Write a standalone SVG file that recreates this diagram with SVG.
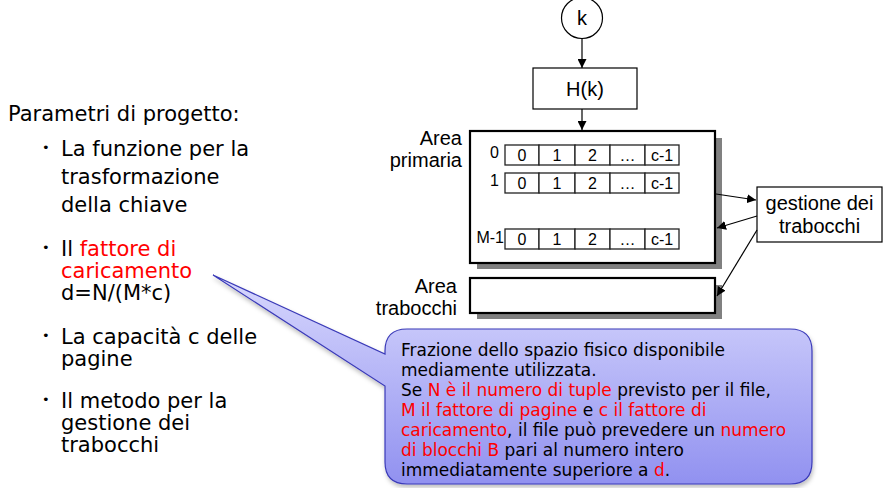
<svg xmlns="http://www.w3.org/2000/svg" width="885" height="488" viewBox="0 0 885 488">
<defs>
  <marker id="ah" viewBox="0 0 10 10" refX="10" refY="5" markerWidth="9" markerHeight="9" markerUnits="userSpaceOnUse" orient="auto">
    <path d="M0,0 L10,5 L0,10 Z" fill="#000"/>
  </marker>
  <linearGradient id="cg" x1="0" y1="0" x2="0" y2="1">
    <stop offset="0" stop-color="#d8d8fd"/>
    <stop offset="1" stop-color="#9191f0"/>
  </linearGradient>
  <filter id="sh" x="-10%" y="-10%" width="120%" height="130%">
    <feDropShadow dx="1" dy="3" stdDeviation="2" flood-color="#000" flood-opacity="0.25"/>
  </filter>
</defs>
<style>
  .lt { font-family: "DejaVu Sans", sans-serif; font-size: 21px; fill: #000; }
  .bul { font-family: "DejaVu Sans", sans-serif; font-size: 13px; fill: #000; }
  .ct { font-family: "DejaVu Sans", sans-serif; font-size: 17px; fill: #000; }
  .red { fill: #ff0000; }
  .dg { font-family: "Liberation Sans", Arial, sans-serif; fill: #000; }
  .lbl { font-size: 20px; }
  .cell { font-size: 16px; text-anchor: middle; }
  .cellbox { fill: #fff; stroke: #222; stroke-width: 1.3; }
  .shadow { fill: #808080; }
  .box { fill: #fff; stroke: #000; stroke-width: 2.2; }
  .thin { fill: #fff; stroke: #000; stroke-width: 1.2; }
  .conn { stroke: #000; stroke-width: 1.2; fill: none; marker-end: url(#ah); }
</style>

<g id="left-text">
  <text class="lt" x="8" y="121">Parametri di progetto:</text>
  <text class="bul" x="42" y="152">•</text>
  <text class="lt" x="61" y="156">La funzione per la</text>
  <text class="lt" x="61" y="184">trasformazione</text>
  <text class="lt" x="61" y="212">della chiave</text>
  <text class="bul" x="42" y="252">•</text>
  <text class="lt" x="61" y="256">Il <tspan class="red">fattore di</tspan></text>
  <text class="lt red" x="61" y="278">caricamento</text>
  <text class="lt" x="61" y="300">d=N/(M*c)</text>
  <text class="bul" x="42" y="340">•</text>
  <text class="lt" x="61" y="344">La capacità c delle</text>
  <text class="lt" x="61" y="366">pagine</text>
  <text class="bul" x="42" y="404">•</text>
  <text class="lt" x="61" y="408">Il metodo per la</text>
  <text class="lt" x="61" y="430">gestione dei</text>
  <text class="lt" x="61" y="452">trabocchi</text>
</g>

<g id="node-k">
  <circle cx="582" cy="18" r="20.5" fill="#fff" stroke="#000" stroke-width="1.2"/>
  <text class="dg lbl" x="582" y="25" text-anchor="middle">k</text>
</g>

<g id="node-hk">
  <rect class="thin" x="533" y="68" width="104" height="41"/>
  <text class="dg lbl" x="585" y="96" text-anchor="middle">H(k)</text>
</g>

<g id="node-area-primaria">
  <rect class="shadow" x="477" y="138" width="245" height="131"/>
  <rect class="box" x="470" y="131" width="245" height="132"/>
  <text class="dg lbl" x="462" y="145" text-anchor="end">Area</text>
  <text class="dg lbl" x="462" y="167" text-anchor="end">primaria</text>
  <text class="dg" font-size="16" x="499" y="158" text-anchor="end">0</text>
  <text class="dg" font-size="16" x="499" y="186" text-anchor="end">1</text>
  <text class="dg" font-size="16" x="504" y="243" text-anchor="end">M-1</text>
  <g id="row-0">
    <rect class="cellbox" x="505" y="145" width="34" height="20"/>
    <rect class="cellbox" x="539" y="145" width="36" height="20"/>
    <rect class="cellbox" x="575" y="145" width="35" height="20"/>
    <rect class="cellbox" x="610" y="145" width="35" height="20"/>
    <rect class="cellbox" x="645" y="145" width="34" height="20"/>
    <text class="dg cell" x="522" y="161">0</text>
    <text class="dg cell" x="557" y="161">1</text>
    <text class="dg cell" x="592.5" y="161">2</text>
    <text class="dg cell" x="627.5" y="161">…</text>
    <text class="dg cell" x="662" y="161">c-1</text>
  </g>
  <g id="row-1">
    <rect class="cellbox" x="505" y="173" width="34" height="20"/>
    <rect class="cellbox" x="539" y="173" width="36" height="20"/>
    <rect class="cellbox" x="575" y="173" width="35" height="20"/>
    <rect class="cellbox" x="610" y="173" width="35" height="20"/>
    <rect class="cellbox" x="645" y="173" width="34" height="20"/>
    <text class="dg cell" x="522" y="189">0</text>
    <text class="dg cell" x="557" y="189">1</text>
    <text class="dg cell" x="592.5" y="189">2</text>
    <text class="dg cell" x="627.5" y="189">…</text>
    <text class="dg cell" x="662" y="189">c-1</text>
  </g>
  <g id="row-m1">
    <rect class="cellbox" x="505" y="229" width="34" height="20"/>
    <rect class="cellbox" x="539" y="229" width="36" height="20"/>
    <rect class="cellbox" x="575" y="229" width="35" height="20"/>
    <rect class="cellbox" x="610" y="229" width="35" height="20"/>
    <rect class="cellbox" x="645" y="229" width="34" height="20"/>
    <text class="dg cell" x="522" y="245">0</text>
    <text class="dg cell" x="557" y="245">1</text>
    <text class="dg cell" x="592.5" y="245">2</text>
    <text class="dg cell" x="627.5" y="245">…</text>
    <text class="dg cell" x="662" y="245">c-1</text>
  </g>
</g>

<g id="node-area-trabocchi">
  <rect class="shadow" x="477" y="285" width="245" height="34"/>
  <rect class="box" x="470" y="278" width="245" height="35"/>
  <text class="dg lbl" x="457" y="293" text-anchor="end">Area</text>
  <text class="dg lbl" x="457" y="315" text-anchor="end">trabocchi</text>
</g>

<g id="node-gestione">
  <rect class="thin" x="757" y="187" width="125" height="55"/>
  <text class="dg lbl" x="819.5" y="210" text-anchor="middle">gestione dei</text>
  <text class="dg lbl" x="819.5" y="233" text-anchor="middle">trabocchi</text>
</g>

<g id="connectors">
  <line class="conn" x1="582" y1="38.5" x2="582" y2="68"/>
  <line class="conn" x1="582" y1="109" x2="582" y2="130"/>
  <line class="conn" x1="716" y1="194" x2="756" y2="200"/>
  <line class="conn" x1="757" y1="216" x2="717" y2="228"/>
  <line class="conn" x1="757" y1="230" x2="717" y2="296"/>
</g>

<g id="callout">
  <path d="M407,329 H790 Q812,329 812,351 V462 Q812,484 790,484 H407 Q385,484 385,462 V386 L213,275 L385,354 V351 Q385,329 407,329 Z" fill="url(#cg)" stroke="#3a3ab8" stroke-width="1.2" filter="url(#sh)"/>
  <text class="ct" x="401" y="356">Frazione dello spazio fisico disponibile</text>
  <text class="ct" x="401" y="376">mediamente utilizzata.</text>
  <text class="ct" x="401" y="396">Se <tspan class="red">N è il numero di tuple</tspan> previsto per il file,</text>
  <text class="ct" x="401" y="416"><tspan class="red">M il fattore di pagine</tspan> e <tspan class="red">c il fattore di</tspan></text>
  <text class="ct" x="401" y="436"><tspan class="red">caricamento</tspan>, il file può prevedere un <tspan class="red">numero</tspan></text>
  <text class="ct" x="401" y="456"><tspan class="red">di blocchi B</tspan> pari al numero intero</text>
  <text class="ct" x="401" y="476">immediatamente superiore a <tspan class="red">d</tspan>.</text>
</g>
</svg>
